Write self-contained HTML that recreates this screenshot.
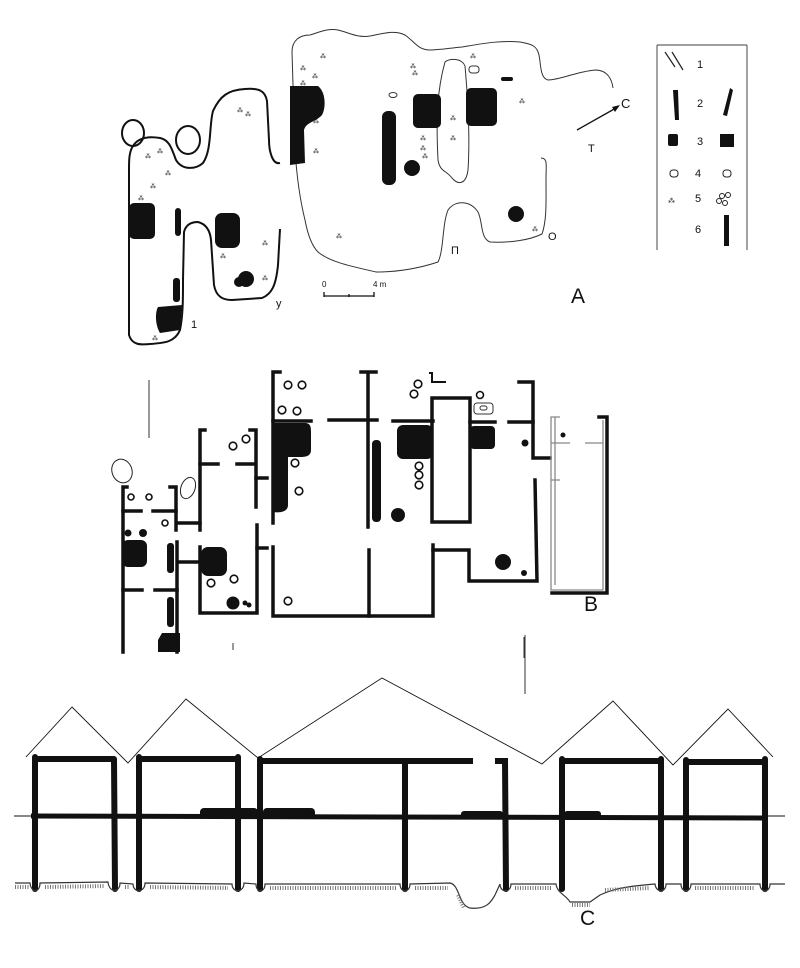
<!DOCTYPE html>
<html><head><meta charset="utf-8"><style>
html,body{margin:0;padding:0;background:#fff;width:800px;height:968px;overflow:hidden}
svg{display:block}
text{font-family:"Liberation Sans",sans-serif;fill:#111}
.m{font-family:"Liberation Mono","DejaVu Sans Mono",monospace}
</style></head><body>
<svg width="800" height="968" viewBox="0 0 800 968" xmlns="http://www.w3.org/2000/svg">
<!-- ===== A ===== -->
<g fill="none" stroke="#111" stroke-width="2">
<path d="M280,163 C272,165 269,150 269,140 L267,101 C265,90 258,88 245,89 C228,90 220,96 213,111 C209,125 212,150 203,163 C195,170 182,170 176,160 C172,150 170,140 160,138 C148,136 138,138 133,146 C129,152 129,160 129,170 L129,335 C132,345 140,345 150,344 C165,343 175,342 180,330 C183,315 183,300 183,280 L184,232 C186,224 192,222 198,222 C206,224 210,230 211,240 L214,285 C216,296 222,300 232,300 L262,298 C272,294 276,285 278,265 L280,229"/>
<ellipse cx="133" cy="133" rx="11" ry="13"/>
<ellipse cx="188" cy="140" rx="12" ry="14"/>
</g>
<g fill="none" stroke="#333" stroke-width="1">
<path d="M292,52 C292,40 300,35 310,35 C320,32 328,28 338,30 C350,33 358,38 370,36 C385,33 395,30 405,35 C415,42 418,50 430,50 C440,50 450,48 462,47 C480,44 500,40 520,42 C532,44 537,46 539,55 C541,65 540,78 548,80 C560,80 575,72 595,70 C608,70 612,80 613,88"/>
<path d="M292,52 L295,150 C297,180 300,200 305,220 C308,236 312,246 318,252 C330,262 350,266 376,272 C400,272 420,268 438,262 C444,250 442,225 448,210 C455,200 470,200 478,212 C483,222 480,238 490,242 C510,243 530,240 542,234 C547,220 546,200 546,180 C546,165 548,158 541,158"/>
<path d="M445,62 C450,58 462,58 465,66 C468,100 470,140 468,170 C466,185 458,185 452,178 C446,170 440,172 438,160 C436,120 437,90 445,62 Z"/>
</g>
<g fill="#111">
<path d="M290,86 L318,86 C326,92 326,108 322,115 C316,122 306,122 304,130 L305,163 L290,165 Z"/>
<rect x="382" y="111" width="14" height="74" rx="6"/>
<circle cx="412" cy="168" r="8"/>
<rect x="413" y="94" width="28" height="34" rx="5"/>
<rect x="466" y="88" width="31" height="38" rx="5"/>
<rect x="501" y="77" width="12" height="4" rx="2"/>
<circle cx="516" cy="214" r="8"/>
<rect x="129" y="203" width="26" height="36" rx="5"/>
<rect x="175" y="208" width="6" height="28" rx="3"/>
<rect x="215" y="213" width="25" height="35" rx="7"/>
<circle cx="246" cy="279" r="8"/><circle cx="239" cy="282" r="5"/>
<rect x="173" y="278" width="7" height="24" rx="3"/>
<path d="M158,307 L182,305 L180,330 L160,333 C155,325 155,312 158,307Z"/>
</g>
<g fill="#555" font-size="6" class="m">
<text x="300" y="70">⁂</text><text x="320" y="58">⁂</text><text x="300" y="85">⁂</text><text x="312" y="78">⁂</text>
<text x="410" y="68">⁂</text><text x="412" y="75">⁂</text><text x="470" y="58">⁂</text><text x="519" y="103">⁂</text>
<text x="313" y="123">⁂</text><text x="313" y="153">⁂</text><text x="420" y="140">⁂</text><text x="420" y="150">⁂</text><text x="422" y="158">⁂</text>
<text x="450" y="120">⁂</text><text x="450" y="140">⁂</text><text x="336" y="238">⁂</text><text x="532" y="231">⁂</text>
<text x="237" y="112">⁂</text><text x="245" y="116">⁂</text><text x="145" y="158">⁂</text><text x="157" y="153">⁂</text>
<text x="150" y="188">⁂</text><text x="165" y="175">⁂</text><text x="138" y="200">⁂</text><text x="262" y="245">⁂</text>
<text x="220" y="258">⁂</text><text x="262" y="280">⁂</text><text x="152" y="340">⁂</text>
</g>
<ellipse cx="393" cy="95" rx="4" ry="2.5" fill="none" stroke="#333"/>
<rect x="469" y="66" width="10" height="7" rx="3" fill="none" stroke="#333"/>
<g stroke="#111" stroke-width="1.3"><line x1="577" y1="130" x2="616" y2="108"/><line x1="324" y1="296" x2="374" y2="296"/><line x1="324" y1="292" x2="324" y2="297"/><line x1="374" y1="292" x2="374" y2="297"/><line x1="349" y1="294" x2="349" y2="297"/></g>
<path d="M620,105 L612,107 L615,112Z" fill="#111"/>
<g class="m" font-size="11"><text x="191" y="328">1</text><text x="276" y="307">у</text><text x="451" y="254">П</text><text x="548" y="240">О</text><text x="588" y="152">Т</text><text x="322" y="287" font-size="8">0</text><text x="373" y="287" font-size="8">4 m</text></g>
<text x="621" y="108" font-size="13">C</text>
<text x="571" y="303" font-size="21">A</text>
<!-- legend -->
<g fill="none" stroke="#666" stroke-width="1.2"><line x1="657" y1="45" x2="657" y2="250"/><line x1="657" y1="45" x2="747" y2="45"/><line x1="747" y1="45" x2="747" y2="250"/></g>
<g stroke="#222" stroke-width="1.2"><line x1="665" y1="52" x2="675" y2="67"/><line x1="672" y1="52" x2="683" y2="70"/></g>
<g fill="#111"><path d="M673,90 L678,90 L679,120 L675,120Z"/><path d="M730,88 L733,90 L727,116 L723,115Z"/>
<rect x="668" y="134" width="10" height="12" rx="2"/><rect x="720" y="134" width="14" height="13"/>
<rect x="724" y="215" width="5" height="31"/></g>
<g fill="none" stroke="#222"><rect x="670" y="170" width="8" height="7" rx="3"/><rect x="723" y="170" width="8" height="7" rx="3"/>
<circle cx="722" cy="196" r="2.5"/><circle cx="728" cy="195" r="2.5"/><circle cx="719" cy="201" r="2.5"/><circle cx="725" cy="203" r="2.5"/></g>
<text x="668" y="203" font-size="7" fill="#888">⁂</text>
<g font-size="11" fill="#333"><text x="697" y="68">1</text><text x="697" y="107">2</text><text x="697" y="145">3</text><text x="695" y="177">4</text><text x="695" y="202">5</text><text x="695" y="233">6</text></g>
<!-- ===== B ===== -->
<line x1="149" y1="380" x2="149" y2="438" stroke="#333" stroke-width="1"/>
<g fill="none" stroke="#222" stroke-width="1"><ellipse cx="122" cy="471" rx="10" ry="12" transform="rotate(-20 122 471)"/><ellipse cx="188" cy="488" rx="7" ry="11" transform="rotate(20 188 488)"/></g>
<g stroke="#111" stroke-width="3.5" fill="none" stroke-linecap="square">
<path d="M127,487 L123,487 L123,652"/><path d="M170,487 L176,487 L176,530"/><line x1="177" y1="542" x2="177" y2="652"/>
<line x1="123" y1="511" x2="141" y2="511"/><line x1="153" y1="511" x2="176" y2="511"/>
<line x1="123" y1="590" x2="142" y2="590"/><line x1="155" y1="590" x2="177" y2="590"/>
<line x1="177" y1="523" x2="200" y2="523"/><line x1="178" y1="562" x2="200" y2="562"/>
<path d="M205,430 L200,430 L200,530"/><line x1="200" y1="464" x2="218" y2="464"/><line x1="237" y1="464" x2="253" y2="464"/>
<path d="M250,430 L256,430 L256,507"/><line x1="256" y1="478" x2="267" y2="478"/>
<path d="M200,547 L200,613 L257,613 L257,525"/><line x1="257" y1="548" x2="267" y2="548"/>
<path d="M280,372 L273,372 L273,523"/><path d="M273,547 L273,616 L433,616 L433,545"/><line x1="369" y1="550" x2="369" y2="616"/>
<line x1="273" y1="421" x2="311" y2="421"/><line x1="329" y1="420" x2="377" y2="420"/>
<path d="M361,372 L376,372 M368,372 L368,527"/>
<line x1="393" y1="421" x2="433" y2="421"/>
<rect x="432" y="398" width="38" height="124"/>
<line x1="470" y1="422" x2="495" y2="422"/>
<path d="M433,550 L469,550 L469,581 L537,581 L535,480"/>
<line x1="509" y1="422" x2="533" y2="422"/><path d="M519,382 L533,382 L533,458 L550,458"/>
<path d="M430,373 L432,373 L432,382 L445,382" stroke-width="2"/>
<path d="M599,417 L607,417 L607,593 L552,593"/>
</g>
<g stroke="#888" stroke-width="1.3" fill="none"><path d="M560,417 L551,417 L551,590 L603,590 L603,420"/><path d="M555,417 L555,585"/><path d="M551,443 L570,443 M585,443 L603,443 M551,480 L560,480"/></g>
<g fill="#111">
<path d="M273,423 L305,423 C311,423 311,428 311,432 L311,450 C311,456 306,457 300,457 L288,457 L288,505 C288,512 280,513 273,512Z"/>
<rect x="372" y="440" width="9" height="82" rx="4"/>
<circle cx="398" cy="515" r="7"/>
<rect x="397" y="425" width="36" height="34" rx="6"/>
<rect x="470" y="426" width="25" height="23" rx="4"/>
<rect x="122" y="540" width="25" height="27" rx="6"/>
<rect x="167" y="543" width="7" height="30" rx="3"/><rect x="167" y="597" width="7" height="30" rx="3"/>
<path d="M162,633 L180,633 L180,652 L158,652 L158,640Z"/>
<rect x="201" y="547" width="26" height="29" rx="7"/>
<circle cx="233" cy="603" r="6.5"/><circle cx="245" cy="603" r="2.5"/><circle cx="249" cy="605" r="2.5"/>
<circle cx="503" cy="562" r="8"/>
<circle cx="128" cy="533" r="3.5"/><circle cx="143" cy="533" r="4"/><circle cx="525" cy="443" r="3.5"/><circle cx="524" cy="573" r="3"/><circle cx="563" cy="435" r="2.5"/>
</g>
<g fill="none" stroke="#111" stroke-width="1.6">
<circle cx="288" cy="385" r="3.8"/><circle cx="302" cy="385" r="3.8"/><circle cx="282" cy="410" r="3.8"/><circle cx="297" cy="411" r="3.8"/><circle cx="295" cy="463" r="3.8"/><circle cx="299" cy="491" r="3.8"/>
<circle cx="418" cy="384" r="3.8"/><circle cx="414" cy="394" r="3.8"/><circle cx="480" cy="395" r="3.5"/>
<circle cx="419" cy="466" r="3.8"/><circle cx="419" cy="475" r="3.8"/><circle cx="419" cy="485" r="3.8"/>
<circle cx="233" cy="446" r="3.8"/><circle cx="246" cy="439" r="3.8"/><circle cx="131" cy="497" r="3"/><circle cx="149" cy="497" r="3"/><circle cx="165" cy="523" r="3"/>
<circle cx="211" cy="583" r="3.8"/><circle cx="234" cy="579" r="3.8"/><circle cx="288" cy="601" r="3.8"/>
</g>
<rect x="474" y="403" width="19" height="11" rx="3" fill="none" stroke="#333" stroke-width="1"/><rect x="480" y="406" width="7" height="4" rx="2" fill="none" stroke="#333"/>
<g stroke="#333" stroke-width="1"><line x1="524" y1="637" x2="524" y2="658"/><line x1="233" y1="643" x2="233" y2="650"/></g>
<text x="584" y="611" font-size="21">B</text>
<!-- ===== C ===== -->
<line x1="525" y1="635" x2="525" y2="694" stroke="#333" stroke-width="1"/>
<g fill="none" stroke="#111" stroke-width="0.9"><path d="M26,757 L72,707 L128,763 L186,699 L258,758 L382,678 L542,764 L613,701 L673,765 L728,709 L773,757"/></g>
<line x1="14" y1="816" x2="785" y2="816" stroke="#111" stroke-width="1"/>
<g stroke="#111" stroke-width="6" fill="none">
<line x1="35" y1="759" x2="114" y2="759"/><line x1="139" y1="759" x2="238" y2="759"/><line x1="260" y1="761" x2="473" y2="761"/><line x1="495" y1="761" x2="508" y2="761"/><line x1="562" y1="761" x2="661" y2="761"/><line x1="686" y1="762" x2="765" y2="762"/>
<line x1="31" y1="816" x2="765" y2="818" stroke-width="5"/>
</g>
<g fill="#111"><rect x="200" y="808" width="58" height="10" rx="4"/><rect x="263" y="808" width="52" height="10" rx="4"/><rect x="461" y="811" width="42" height="8" rx="3"/><rect x="564" y="811" width="37" height="9" rx="3"/></g>
<g stroke="#111" stroke-width="6" stroke-linecap="round">
<line x1="35" y1="757" x2="35" y2="889"/><line x1="114" y1="759" x2="115" y2="889"/><line x1="139" y1="757" x2="139" y2="889"/><line x1="238" y1="757" x2="238" y2="889"/><line x1="260" y1="759" x2="260" y2="889"/><line x1="405" y1="763" x2="405" y2="889"/><line x1="505" y1="761" x2="506" y2="889"/><line x1="562" y1="759" x2="562" y2="889"/><line x1="661" y1="759" x2="661" y2="889"/><line x1="686" y1="760" x2="686" y2="889"/><line x1="765" y1="759" x2="765" y2="889"/>
</g>
<path d="M15,883 L30,883 C31,893 40,893 40,883 L108,882 C109,893 120,893 120,883 L133,884 C133,893 145,893 145,883 L232,884 C232,893 244,893 244,883 L256,884 C256,893 265,893 265,884 L400,884 C400,893 410,893 410,884 L450,883 C460,885 458,905 470,908 C488,910 492,900 495,895 L500,884 C500,893 511,893 511,884 L556,884 C557,893 566,895 570,902 L590,902 L600,895 C615,888 630,886 655,884 C656,893 666,893 666,884 L681,884 C681,893 691,893 691,884 L760,884 C760,893 770,893 770,884 L785,884" fill="none" stroke="#333" stroke-width="1.2"/>
<path d="M15,887 L30,887 M45,887 L105,886 M125,887 L130,887 M150,887 L228,888 M270,888 L396,888 M415,888 L448,888 M458,895 L464,908 M515,888 L552,888 M572,905 L590,905 M605,890 L650,888 M695,888 L755,888" stroke="#777" stroke-width="4" stroke-dasharray="1 1.5"/>
<text x="580" y="925" font-size="21">C</text>
</svg>
</body></html>
